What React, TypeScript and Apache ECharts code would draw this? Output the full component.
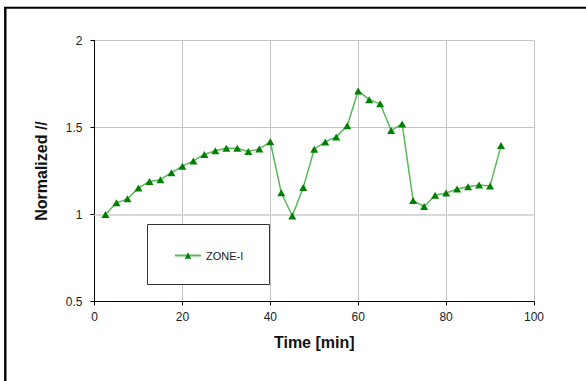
import React, { useEffect, useRef } from "react";
import * as echarts from "echarts";

const timeMin = [2.5, 5, 7.5, 10, 12.5, 15, 17.5, 20, 22.5, 25, 27.5, 30, 32.5, 35, 37.5, 40, 42.5, 45, 47.5, 50, 52.5, 55, 57.5, 60, 62.5, 65, 67.5, 70, 72.5, 75, 77.5, 80, 82.5, 85, 87.5, 90, 92.5];
const zoneI = [1.0, 1.067, 1.09, 1.153, 1.19, 1.2, 1.24, 1.278, 1.308, 1.345, 1.366, 1.381, 1.381, 1.362, 1.377, 1.418, 1.125, 0.992, 1.155, 1.375, 1.417, 1.446, 1.51, 1.71, 1.66, 1.636, 1.483, 1.52, 1.08, 1.046, 1.111, 1.124, 1.147, 1.159, 1.17, 1.164, 1.396];
const seriesName = "ZONE-I";
const xTitle = "Time [min]";
const yTitle = "Normalized //";

const FONT = "'Liberation Sans', Arial, sans-serif";

export default function App() {
  const ref = useRef<HTMLDivElement>(null);
  useEffect(() => {
    if (!ref.current) return;
    const chart = echarts.init(ref.current, undefined, { renderer: "svg" });
    const data = timeMin.map((t, i) => [t, zoneI[i]]);
    chart.setOption({
      animation: false,
      backgroundColor: "#ffffff",
      textStyle: { fontFamily: FONT },
      grid: { left: 94.5, right: 52, top: 40.5, bottom: 79.5, containLabel: false },
      xAxis: {
        type: "value",
        min: 0,
        max: 100,
        interval: 20,
        name: xTitle,
        nameLocation: "middle",
        nameGap: 33,
        nameTextStyle: { fontSize: 16, fontWeight: "bold", color: "#111", fontFamily: FONT },
        axisLine: { show: true, onZero: false, lineStyle: { color: "#000", width: 1 } },
        axisTick: { show: true, length: 4, lineStyle: { color: "#000" } },
        axisLabel: { fontSize: 12, color: "#222", margin: 9, fontFamily: FONT },
        splitLine: { show: true, lineStyle: { color: "#c4c4c4", width: 1 } },
      },
      yAxis: {
        type: "value",
        min: 0.5,
        max: 2,
        interval: 0.5,
        name: yTitle,
        nameLocation: "middle",
        nameRotate: 90,
        nameGap: 45,
        nameTextStyle: { fontSize: 16, fontWeight: "bold", color: "#111", fontFamily: FONT },
        axisLine: { show: true, onZero: false, lineStyle: { color: "#000", width: 1 } },
        axisTick: { show: true, length: 4, lineStyle: { color: "#000" } },
        axisLabel: { fontSize: 12, color: "#222", margin: 12, fontFamily: FONT },
        splitLine: { show: true, lineStyle: { color: "#c4c4c4", width: 1 } },
      },
      legend: {
        show: true,
        left: 174,
        top: 250,
        padding: 0,
        itemWidth: 26,
        itemHeight: 8,
        data: [seriesName],
        textStyle: { fontSize: 11, color: "#222", fontFamily: FONT },
        z: 5,
      },
      graphic: [
        {
          type: "rect",
          z: 3,
          shape: { x: 147.5, y: 224.5, width: 122, height: 60 },
          style: { fill: "#ffffff", stroke: "#333333", lineWidth: 1 },
        },
        {
          type: "line",
          z: 10,
          shape: { x1: 4, y1: 7.7, x2: 586, y2: 7.7 },
          style: { stroke: "#000", lineWidth: 2 },
        },
        {
          type: "line",
          z: 10,
          shape: { x1: 5.3, y1: 7, x2: 5.3, y2: 381 },
          style: { stroke: "#000", lineWidth: 2.4 },
        },
      ],
      series: [
        {
          name: seriesName,
          type: "line",
          data,
          symbol: "triangle",
          symbolSize: [8, 7],
          itemStyle: { color: "#008000" },
          lineStyle: { color: "#5cb85c", width: 1.5 },
          markLine: {
            silent: true,
            symbol: ["none", "none"],
            label: { show: false },
            lineStyle: { type: "solid", color: "#d9d9d9", width: 2 },
            data: [{ yAxis: 1 }],
            z: 1,
          },
          z: 4,
        },
      ],
    });
    return () => chart.dispose();
  }, []);
  return (
    <div
      ref={ref}
      style={{ position: "fixed", left: 0, top: 0, width: 586, height: 381 }}
    />
  );
}
